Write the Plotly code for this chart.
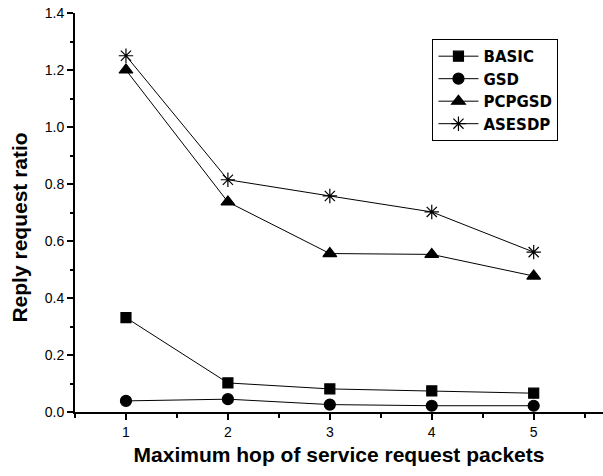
import plotly.graph_objects as go

# Maximum hop count of service request packets
hops = [1, 2, 3, 4, 5]

# Reply request ratio for each protocol
basic = [0.331, 0.102, 0.081, 0.074, 0.066]
gsd = [0.039, 0.045, 0.026, 0.022, 0.022]
pcpgsd = [1.20, 0.737, 0.556, 0.553, 0.477]
asesdp = [1.25, 0.815, 0.758, 0.702, 0.561]

series = [
    ("BASIC", basic, "square", 10),
    ("GSD", gsd, "circle", 11),
    ("PCPGSD", pcpgsd, "triangle-up", 12),
    ("ASESDP", asesdp, "asterisk-open", 12),
]

fig = go.Figure()
for name, vals, sym, size in series:
    fig.add_trace(go.Scatter(
        x=hops, y=vals, name=name, mode="lines+markers",
        line=dict(color="black", width=1),
        marker=dict(symbol=sym, size=size, color="black",
                    line=dict(color="black", width=1.2)),
    ))

font_family = "Liberation Sans, Arial, sans-serif"

fig.update_layout(
    width=603, height=476,
    margin=dict(l=75, r=0, t=13, b=64),
    paper_bgcolor="white", plot_bgcolor="white",
    font=dict(family=font_family, color="black", size=14),
    showlegend=True,
    legend=dict(
        x=0.677, y=0.935, xanchor="left", yanchor="top",
        bordercolor="black", borderwidth=1, bgcolor="white",
        font=dict(family="DejaVu Sans, sans-serif", size=15, color="black",
                  weight="bold"),
        tracegroupgap=0, itemwidth=40,
    ),
    xaxis=dict(
        range=[0.5, 5.68], tickvals=hops, ticks="outside", ticklen=6,
        tickwidth=1.5, tickcolor="black",
        minor=dict(dtick=0.5, ticks="outside", ticklen=4, tickcolor="black",
                   tickwidth=1.5),
        showline=True, linecolor="black", linewidth=2, showgrid=False,
        zeroline=False,
        tickfont=dict(size=14),
        title=dict(text="Maximum hop of service request packets",
                   font=dict(size=21, weight="bold"), standoff=9),
    ),
    yaxis=dict(
        range=[0, 1.4], dtick=0.2, tickformat=".1f", ticks="outside",
        ticklen=6, tickwidth=1.5, tickcolor="black",
        minor=dict(dtick=0.1, ticks="outside", ticklen=3, tickcolor="black",
                   tickwidth=1.5),
        showline=True, linecolor="black", linewidth=2, showgrid=False,
        zeroline=False,
        tickfont=dict(size=14),
    ),
    annotations=[dict(
        text="<b>Reply request ratio</b>", textangle=-90,
        xref="paper", yref="paper", x=0, y=0.461,
        xanchor="right", yanchor="middle", xshift=-42, showarrow=False,
        font=dict(size=21, family=font_family, color="black"),
    )],
    # frame on the top and right with inward ticks
    xaxis2=dict(
        overlaying="x", side="top", anchor="y", range=[0.5, 5.68],
        tickvals=[1.5, 2.5, 3.5, 4.5], ticks="inside", ticklen=4,
        tickcolor="black", showticklabels=False, showgrid=False,
        showline=True, linecolor="#bbbbbb", linewidth=1, zeroline=False,
    ),
    yaxis2=dict(
        overlaying="y", side="right", anchor="x", range=[0, 5], dtick=1,
        ticks="inside", ticklen=6, tickwidth=1.5, tickcolor="black",
        minor=dict(dtick=0.5, ticks="inside", ticklen=3, tickcolor="black"),
        showticklabels=False, showgrid=False, showline=False, zeroline=False,
    ),
)

fig.write_html("out.html")
